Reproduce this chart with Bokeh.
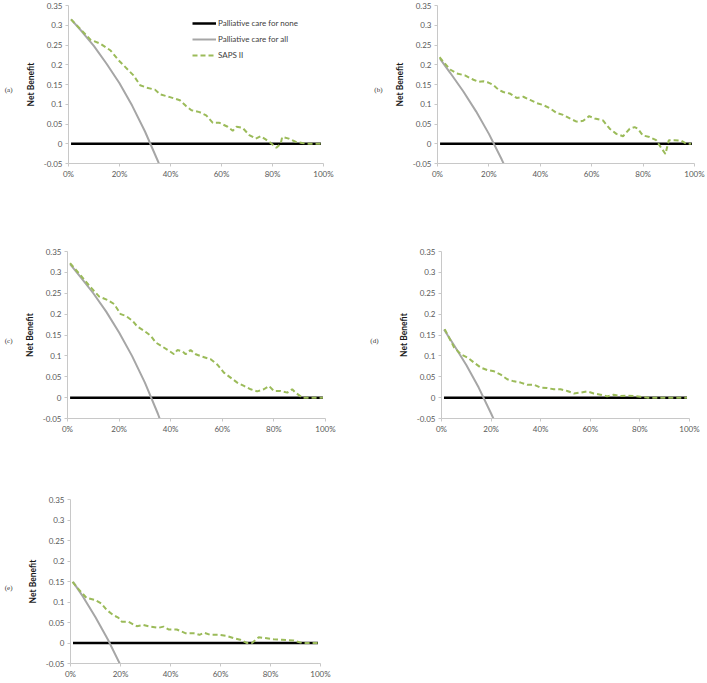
from bokeh.plotting import figure
from bokeh.layouts import column, row
from bokeh.models import (FixedTicker, NumeralTickFormatter, CustomJSTickFormatter,
                          Legend, LegendItem, Range1d, LinearAxis)
from bokeh.embed import file_html
from bokeh.resources import INLINE

# ---------------- data ----------------
x_ticks = [0.0, 0.2, 0.4, 0.6, 0.8, 1.0]
y_ticks = [-0.05, 0.0, 0.05, 0.1, 0.15, 0.2, 0.25, 0.3, 0.35]
series_names = ["Palliative care for none", "Palliative care for all", "SAPS II"]
panel_labels = ["(a)", "(b)", "(c)", "(d)", "(e)"]
panel_label_y = 0.135

none_x = [0.01, 0.99]
none_y = [0.0, 0.0]

# (a)
all_x_a = [0.01, 0.05, 0.10, 0.15, 0.20, 0.25, 0.30, 0.35, 0.36]
all_y_a = [0.315, 0.286, 0.247, 0.202, 0.153, 0.096, 0.031, -0.043, -0.059]
saps_x_a = [0.01, 0.087, 0.126, 0.165, 0.197, 0.223, 0.255, 0.281, 0.307, 0.339, 0.359,
            0.398, 0.437, 0.462, 0.482, 0.514, 0.540, 0.566, 0.592, 0.624, 0.644, 0.659,
            0.683, 0.709, 0.734, 0.754, 0.773, 0.793, 0.815, 0.832, 0.838, 0.864, 0.890,
            0.916, 0.942, 0.99]
saps_y_a = [0.315, 0.263, 0.253, 0.236, 0.211, 0.194, 0.173, 0.148, 0.142, 0.137, 0.125,
            0.118, 0.110, 0.095, 0.085, 0.080, 0.072, 0.053, 0.053, 0.043, 0.033, 0.043,
            0.040, 0.022, 0.013, 0.019, 0.011, 0.002, -0.010, 0.0, 0.017, 0.013, 0.005,
            0.002, 0.0, 0.0]

# (b)
all_x_b = [0.01, 0.05, 0.10, 0.15, 0.20, 0.25, 0.27]
all_y_b = [0.215, 0.179, 0.133, 0.082, 0.025, -0.040, -0.068]
saps_x_b = [0.008, 0.049, 0.075, 0.107, 0.140, 0.159, 0.179, 0.198, 0.217, 0.237, 0.256,
            0.282, 0.308, 0.334, 0.360, 0.386, 0.411, 0.437, 0.463, 0.489, 0.515, 0.541,
            0.567, 0.590, 0.612, 0.644, 0.670, 0.696, 0.722, 0.748, 0.767, 0.780, 0.799,
            0.825, 0.851, 0.871, 0.887, 0.900, 0.922, 0.948, 0.968, 0.987]
saps_y_b = [0.219, 0.188, 0.178, 0.173, 0.162, 0.157, 0.158, 0.155, 0.149, 0.137, 0.131,
            0.127, 0.116, 0.119, 0.111, 0.103, 0.098, 0.090, 0.078, 0.073, 0.064, 0.056,
            0.058, 0.070, 0.064, 0.059, 0.038, 0.025, 0.019, 0.038, 0.042, 0.038, 0.021,
            0.017, 0.009, -0.011, -0.026, 0.009, 0.009, 0.008, 0.0, 0.0]

# (c)
all_x_c = [0.01, 0.05, 0.10, 0.15, 0.20, 0.25, 0.30, 0.35, 0.36]
all_y_c = [0.320, 0.289, 0.250, 0.206, 0.156, 0.100, 0.036, -0.038, -0.055]
saps_x_c = [0.01, 0.052, 0.090, 0.123, 0.155, 0.181, 0.206, 0.226, 0.252, 0.271, 0.297,
            0.323, 0.342, 0.368, 0.394, 0.413, 0.426, 0.445, 0.458, 0.477, 0.497, 0.523,
            0.555, 0.581, 0.606, 0.632, 0.658, 0.684, 0.710, 0.735, 0.761, 0.781, 0.800,
            0.826, 0.852, 0.871, 0.884, 0.910, 0.99]
saps_y_c = [0.322, 0.292, 0.264, 0.242, 0.234, 0.224, 0.200, 0.196, 0.184, 0.170, 0.160,
            0.148, 0.132, 0.122, 0.112, 0.104, 0.114, 0.111, 0.104, 0.114, 0.104, 0.098,
            0.092, 0.079, 0.060, 0.048, 0.036, 0.028, 0.020, 0.015, 0.020, 0.028, 0.016,
            0.016, 0.012, 0.020, 0.012, 0.0, 0.0]

# (d)
all_x_d = [0.01, 0.05, 0.10, 0.15, 0.20, 0.22]
all_y_d = [0.163, 0.126, 0.078, 0.024, -0.038, -0.064]
saps_x_d = [0.013, 0.051, 0.078, 0.105, 0.131, 0.158, 0.185, 0.212, 0.239, 0.265, 0.292,
            0.319, 0.346, 0.373, 0.399, 0.426, 0.453, 0.480, 0.507, 0.534, 0.560, 0.587,
            0.614, 0.641, 0.668, 0.694, 0.721, 0.748, 0.775, 0.802, 0.828, 0.99]
saps_y_d = [0.164, 0.120, 0.104, 0.096, 0.084, 0.072, 0.066, 0.063, 0.055, 0.044, 0.039,
            0.036, 0.031, 0.031, 0.024, 0.023, 0.020, 0.020, 0.016, 0.010, 0.012, 0.015,
            0.010, 0.007, 0.003, 0.007, 0.004, 0.005, 0.004, 0.002, 0.0, 0.0]

# (e)
all_x_e = [0.01, 0.05, 0.10, 0.15, 0.20, 0.21]
all_y_e = [0.149, 0.113, 0.063, 0.008, -0.054, -0.067]
saps_x_e = [0.008, 0.037, 0.064, 0.098, 0.124, 0.144, 0.171, 0.191, 0.205, 0.231, 0.265,
            0.291, 0.318, 0.352, 0.372, 0.392, 0.425, 0.459, 0.492, 0.516, 0.535, 0.559,
            0.592, 0.626, 0.652, 0.679, 0.706, 0.726, 0.753, 0.779, 0.813, 0.846, 0.893,
            0.926, 0.99]
saps_y_e = [0.149, 0.128, 0.110, 0.105, 0.096, 0.081, 0.068, 0.062, 0.052, 0.052, 0.041,
            0.044, 0.040, 0.037, 0.040, 0.033, 0.033, 0.024, 0.024, 0.020, 0.025, 0.020,
            0.020, 0.017, 0.012, 0.008, 0.0, 0.0, 0.014, 0.012, 0.009, 0.008, 0.006,
            0.0, 0.0]

# ---------------- styling ----------------
C_NONE = "#000000"
C_ALL = "#a6a6a6"
C_SAPS = "#9bbb59"
AXIS_C = "#c8c8c8"
TXT_C = "#595959"
FONT = "Lato"


def make_panel(w, h, borders, all_x, all_y, saps_x, saps_y, label, label_standoff,
               legend=False):
    left, right, top, bottom = borders
    p = figure(width=w, height=h, output_backend="svg", toolbar_location=None,
               x_range=Range1d(0, 1), y_range=Range1d(-0.05, 0.35),
               min_border_left=left, min_border_right=right,
               min_border_top=top, min_border_bottom=bottom)
    p.outline_line_color = None
    p.xgrid.visible = False
    p.ygrid.visible = False
    p.background_fill_color = "white"
    p.border_fill_color = "white"

    r_none = p.line(none_x, none_y, line_color=C_NONE, line_width=2.5)
    r_all = p.line(all_x, all_y, line_color=C_ALL, line_width=2)
    r_saps = p.line(saps_x, saps_y, line_color=C_SAPS, line_width=2, line_dash="5 3")

    for ax in (p.xaxis[0], p.yaxis[0]):
        ax.axis_line_color = AXIS_C
        ax.major_tick_line_color = AXIS_C
        ax.minor_tick_line_color = None
        ax.major_tick_in = 0
        ax.major_tick_out = 3
        ax.major_label_text_font = FONT
        ax.major_label_text_font_size = "8px"
        ax.major_label_text_color = TXT_C
        ax.major_label_standoff = 3

    p.xaxis[0].ticker = FixedTicker(ticks=x_ticks)
    p.xaxis[0].formatter = NumeralTickFormatter(format="0%")
    p.xaxis[0].major_label_standoff = 2
    p.yaxis[0].ticker = FixedTicker(ticks=y_ticks)
    p.yaxis[0].formatter = CustomJSTickFormatter(code="return String(Math.round(tick*100)/100);")
    p.yaxis[0].axis_label = "Net Benefit"
    p.yaxis[0].axis_label_text_font = FONT
    p.yaxis[0].axis_label_text_font_style = "bold"
    p.yaxis[0].axis_label_text_font_size = "8.5px"
    p.yaxis[0].axis_label_text_color = "#1a1a1a"
    p.yaxis[0].axis_label_standoff = 5

    # panel tag "(a)" etc. as an outer, line-less axis carrying one label
    tag_axis = LinearAxis(ticker=FixedTicker(ticks=[panel_label_y]),
                          formatter=CustomJSTickFormatter(code="return %r;" % label),
                          axis_line_color=None, major_tick_line_color=None,
                          minor_tick_line_color=None, major_tick_out=0, major_tick_in=0,
                          major_label_standoff=label_standoff,
                          major_label_text_font="Liberation Serif",
                          major_label_text_font_size="7px",
                          major_label_text_color="#333333")
    p.add_layout(tag_axis, "left")

    if legend:
        lg = Legend(items=[LegendItem(label=series_names[0], renderers=[r_none]),
                           LegendItem(label=series_names[1], renderers=[r_all]),
                           LegendItem(label=series_names[2], renderers=[r_saps])],
                    location=(124, 102), padding=0, margin=0, spacing=4,
                    glyph_width=24, glyph_height=12, label_height=12, label_standoff=2,
                    label_text_font=FONT, label_text_font_size="8px",
                    label_text_color="#404040", border_line_color=None,
                    background_fill_alpha=0)
        p.add_layout(lg)
    return p


fa = make_panel(350, 208, (68, 27, 5, 45), all_x_a, all_y_a, saps_x_a, saps_y_a,
                panel_labels[0], 10, legend=True)
fb = make_panel(355, 208, (87, 11, 3, 40), all_x_b, all_y_b, saps_x_b, saps_y_b,
                panel_labels[1], 9)
fc = make_panel(350, 245, (67, 25, 43, 35), all_x_c, all_y_c, saps_x_c, saps_y_c,
                panel_labels[2], 9)
fd = make_panel(355, 245, (91, 16, 43, 35), all_x_d, all_y_d, saps_x_d, saps_y_d,
                panel_labels[3], 17)
fe = make_panel(350, 228, (70, 30, 46, 18), all_x_e, all_y_e, saps_x_e, saps_y_e,
                panel_labels[4], 12)

layout = column(row(fa, fb), row(fc, fd), row(fe))

with open("out.html", "w") as f:
    f.write(file_html(layout, INLINE))
